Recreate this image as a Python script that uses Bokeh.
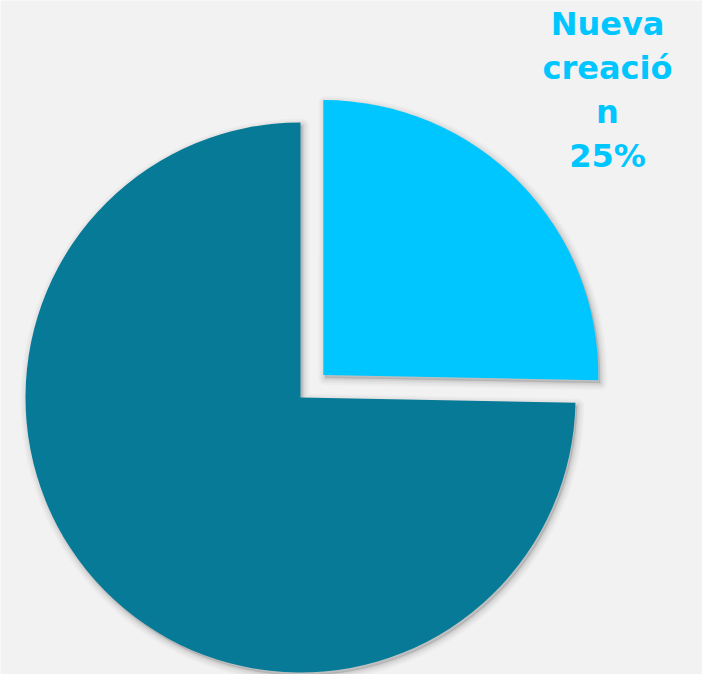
import math
from bokeh.plotting import figure
from bokeh.models import Range1d
from bokeh.embed import file_html
from bokeh.resources import INLINE
from bokeh.core.properties import value

# Data
categories = ["Existente", "Nueva creación"]
values = [74.7, 25.3]
colors = ["#077A97", "#00C6FF"]
label_lines = ["Nueva", "creació", "n", "25%"]

W, H = 702, 674
p = figure(width=W, height=H, output_backend="svg", toolbar_location=None,
           x_range=Range1d(0, W), y_range=Range1d(0, H),
           min_border=0)
p.axis.visible = False
p.grid.visible = False
p.outline_line_color = None
p.background_fill_color = "#F2F2F2"
p.border_fill_color = "#F2F2F2"

cx, cy = 300, 674 - 397
r = 275
explode = 32
total = sum(values)
end_angle = 90.0
a_new = values[1] / total * 360
a_old = values[0] / total * 360
new_start = end_angle - a_new
slices = [
    (categories[0], end_angle, end_angle + a_old, colors[0], 0),
    (categories[1], new_start, end_angle, colors[1], explode),
]

def draw(shadow):
    for name, s, e, col, ex in slices:
        mid = math.radians((s + e) / 2)
        x = cx + ex * math.cos(mid)
        y = cy + ex * math.sin(mid)
        if shadow:
            for lw, al in [(14, 0.025), (10, 0.03), (6, 0.04), (3, 0.05)]:
                p.wedge(x=[x + 2], y=[y - 3], radius=r, start_angle=math.radians(s),
                        end_angle=math.radians(e), fill_color="black", fill_alpha=0.03,
                        line_color="black", line_alpha=al, line_width=lw,
                        line_join="round")
        else:
            p.wedge(x=[x], y=[y], radius=r, start_angle=math.radians(s),
                    end_angle=math.radians(e), fill_color=col, line_color=None)

draw(True)
draw(False)

# label
lx = 607
for i, t in enumerate(label_lines):
    p.text(x=[lx], y=[674 - (23 + 44 * i)], text=[t], text_align="center",
           text_baseline="alphabetic", text_font=value("DejaVu Sans"),
           text_font_style="bold", text_font_size="32px", text_color=colors[1])

open("out.html", "w").write(file_html(p, INLINE))
